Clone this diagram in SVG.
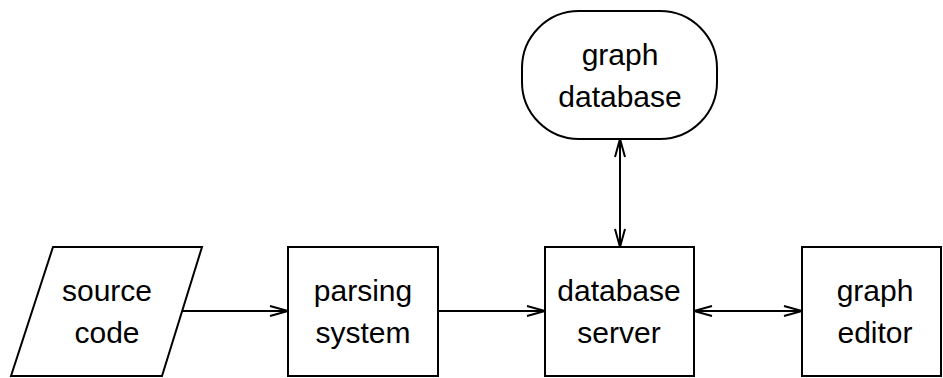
<svg xmlns="http://www.w3.org/2000/svg" width="943" height="378" viewBox="0 0 943 378">
<defs>
<style>
.s{fill:#fff;stroke:#000;stroke-width:2}
.t{font-family:"Liberation Sans",Arial,sans-serif;font-size:30px;text-anchor:middle;fill:#000}
.c{stroke:#000;stroke-width:2;fill:none}
</style>
<marker id="a" viewBox="0 0 20 12" refX="19" refY="6" markerWidth="20" markerHeight="12" markerUnits="userSpaceOnUse" orient="auto-start-reverse">
<path d="M1,1 L19,6 L1,11" fill="none" stroke="#000" stroke-width="2"/>
</marker>
</defs>
<rect width="943" height="378" fill="#fff"/>
<g id="connectors">
<line class="c" x1="182" y1="311" x2="288" y2="311" marker-end="url(#a)"/>
<line class="c" x1="438" y1="311" x2="545" y2="311" marker-end="url(#a)"/>
<line class="c" x1="694" y1="311" x2="802" y2="311" marker-start="url(#a)" marker-end="url(#a)"/>
<line class="c" x1="620" y1="139" x2="620" y2="247" marker-start="url(#a)" marker-end="url(#a)"/>
</g>
<g id="source-code">
<polygon class="s" points="53,247 202,247 162,376 11,376"/>
<text class="t" x="107" y="301">source</text>
<text class="t" x="107" y="343">code</text>
</g>
<g id="parsing-system">
<rect class="s" x="288" y="247" width="150" height="129"/>
<text class="t" x="363" y="301">parsing</text>
<text class="t" x="363" y="343">system</text>
</g>
<g id="database-server">
<rect class="s" x="545" y="247" width="149" height="129"/>
<text class="t" x="619" y="301">database</text>
<text class="t" x="619" y="343">server</text>
</g>
<g id="graph-editor">
<rect class="s" x="802" y="247" width="139" height="129"/>
<text class="t" x="875" y="301">graph</text>
<text class="t" x="875" y="343">editor</text>
</g>
<g id="graph-database">
<rect class="s" x="522" y="11" width="195" height="128" rx="57" ry="57"/>
<text class="t" x="620" y="65">graph</text>
<text class="t" x="620" y="107">database</text>
</g>
</svg>
